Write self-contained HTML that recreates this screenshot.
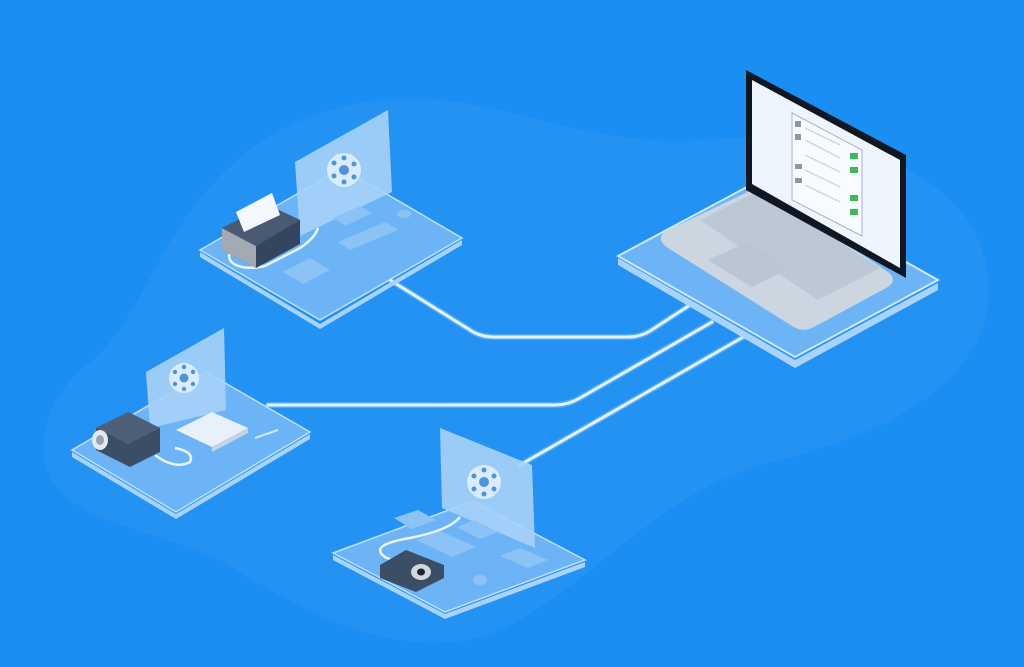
<!DOCTYPE html>
<html><head><meta charset="utf-8"><style>
html,body{margin:0;padding:0;background:#1b8ef3;}
svg{display:block}
</style></head><body>
<svg width="1024" height="667" viewBox="0 0 1024 667" xmlns="http://www.w3.org/2000/svg">
<rect width="1024" height="667" fill="#1b8ef3"/>
<!-- lighter blob -->
<path d="M120 330 C170 250 200 150 330 110 C470 70 560 150 700 140 C830 130 960 160 985 260 C1010 370 900 430 780 460 C660 490 620 560 520 620 C420 680 300 610 220 560 C130 520 30 520 45 430 C55 380 90 370 120 330 Z" fill="#3a9bf3" opacity="0.3"/>

<!-- connectors -->
<g fill="none" stroke-linecap="round">
<g stroke="#7cc0ff" stroke-width="6" opacity="0.5">
<path d="M390 280 L470 330 Q480 337 495 337 L628 337 Q640 337 650 331 L690 305"/>
<path d="M268 405 L555 405 Q568 405 580 398 L712 322"/>
<path d="M520 465 L745 336"/>
</g>
<g stroke="#e4f2ff" stroke-width="3">
<path d="M390 280 L470 330 Q480 337 495 337 L628 337 Q640 337 650 331 L690 305"/>
<path d="M268 405 L555 405 Q568 405 580 398 L712 322"/>
<path d="M520 465 L745 336"/>
</g>
</g>

<!-- TOP-LEFT platform -->
<polygon points="200,252 320,324 462,240 462,245 320,329 200,257" fill="#a9d3fa"/>
<polygon points="200,250 342,168 462,238 320,320" fill="#6cb4f5" stroke="#bfe0fd" stroke-width="1.5"/>
<polygon points="295,162 388,110 392,192 300,236" fill="#a6d1f9" opacity="0.92"/>
<circle cx="344" cy="170" r="17" fill="#d8ecfd"/>
<circle cx="344" cy="170" r="5" fill="#4f93d8"/>
<g fill="#4f93d8"><circle cx="344" cy="158" r="2.5"/><circle cx="354" cy="164" r="2.5"/><circle cx="354" cy="177" r="2.5"/><circle cx="344" cy="182" r="2.5"/><circle cx="334" cy="176" r="2.5"/><circle cx="334" cy="163" r="2.5"/></g>
<polygon points="333,218 360,206 372,213 345,226" fill="#8cc3f6"/>
<polygon points="338,242 385,222 398,230 350,250" fill="#8cc3f6"/>
<ellipse cx="404" cy="214" rx="7" ry="4" fill="#8cc3f6"/>
<polygon points="283,272 310,258 330,270 303,284" fill="#8cc3f6"/>
<path d="M232 250 C222 262 240 272 265 266 L300 248 Q315 238 318 228" stroke="#e8f4ff" stroke-width="2.5" fill="none"/>
<polygon points="222,228 268,205 300,220 300,244 256,268 222,250" fill="#34455f"/>
<polygon points="222,228 256,246 256,268 222,250" fill="#a5a9b3"/>
<polygon points="222,228 268,205 300,220 256,246" fill="#4a5a73"/>
<polygon points="236,212 272,193 280,215 244,232" fill="#f4f7fb"/>

<!-- LEFT platform -->
<polygon points="72,452 176,514 310,434 310,439 176,519 72,457" fill="#a9d3fa"/>
<polygon points="72,450 206,372 310,432 176,512" fill="#6cb4f5" stroke="#bfe0fd" stroke-width="1.5"/>
<polygon points="146,372 224,328 226,410 150,428" fill="#a6d1f9" opacity="0.92"/>
<circle cx="184" cy="378" r="15" fill="#d8ecfd"/>
<circle cx="184" cy="378" r="4.5" fill="#4f93d8"/>
<g fill="#4f93d8"><circle cx="184" cy="367" r="2.2"/><circle cx="193" cy="372" r="2.2"/><circle cx="193" cy="384" r="2.2"/><circle cx="184" cy="389" r="2.2"/><circle cx="175" cy="384" r="2.2"/><circle cx="175" cy="372" r="2.2"/></g>
<polygon points="176,430 212,412 248,428 212,447" fill="#e8f1fb"/>
<polygon points="212,447 248,428 248,433 212,452" fill="#c3d4e8"/>
<line x1="255" y1="438" x2="278" y2="430" stroke="#cfe6fd" stroke-width="2"/>
<path d="M155 455 Q175 470 190 462 Q195 452 175 448" stroke="#e8f4ff" stroke-width="2.5" fill="none"/>
<polygon points="96,428 128,412 160,428 160,452 130,467 96,450" fill="#3c4d66"/>
<polygon points="96,428 128,412 160,428 128,444" fill="#4e5f78"/>
<ellipse cx="100" cy="440" rx="8" ry="10" fill="#e5e9ee"/>
<ellipse cx="100" cy="440" rx="4" ry="5" fill="#9aa3af"/>

<!-- BOTTOM platform -->
<polygon points="333,555 445,614 585,562 585,567 445,619 333,560" fill="#a9d3fa"/>
<polygon points="333,553 473,501 585,560 445,612" fill="#6cb4f5" stroke="#bfe0fd" stroke-width="1.5"/>
<polygon points="440,428 532,465 535,548 442,508" fill="#a6d1f9" opacity="0.92"/>
<circle cx="484" cy="482" r="17" fill="#d8ecfd"/>
<circle cx="484" cy="482" r="5" fill="#4f93d8"/>
<g fill="#4f93d8"><circle cx="484" cy="470" r="2.5"/><circle cx="494" cy="476" r="2.5"/><circle cx="494" cy="489" r="2.5"/><circle cx="484" cy="494" r="2.5"/><circle cx="474" cy="489" r="2.5"/><circle cx="474" cy="476" r="2.5"/></g>
<polygon points="394,518 418,510 436,520 412,529" fill="#8cc3f6"/>
<polygon points="416,540 440,531 476,547 452,557" fill="#8cc3f6"/>
<polygon points="457,527 475,520 498,532 480,539" fill="#8cc3f6"/>
<polygon points="500,556 520,548 548,560 528,568" fill="#8cc3f6"/>
<ellipse cx="480" cy="580" rx="7" ry="5" fill="#8cc3f6"/>
<path d="M460 517 Q450 530 410 538 Q368 545 385 557 Q395 562 398 560" stroke="#e8f4ff" stroke-width="2.5" fill="none"/>
<polygon points="380,565 406,550 444,565 444,578 416,592 380,578" fill="#3c4d66"/>
<ellipse cx="421" cy="572" rx="10" ry="8" fill="#d4d8de"/>
<ellipse cx="421" cy="572" rx="4" ry="3.5" fill="#1e2633"/>

<!-- BIG laptop platform -->
<polygon points="618,258 795,360 938,283 938,290 795,368 618,265" fill="#a9d3fa"/>
<polygon points="618,256 760,180 938,280 795,357" fill="#6cb4f5" stroke="#cfe8ff" stroke-width="2"/>
<path d="M664 232 Q656 240 668 248 L792 326 Q802 333 814 327 L888 287 Q898 280 888 272 L760 186 Z" fill="#ccd6e1"/>
<polygon points="700,220 760,190 880,268 818,300" fill="#bcc8d5"/>
<polygon points="708,260 748,242 790,268 752,287" fill="#bac6d3"/>
<polygon points="746,70 906,155 906,278 746,190" fill="#0f1722"/>
<polygon points="752,80 900,160 900,268 752,184" fill="#eef5fc"/>
<polygon points="792,113 862,150 862,236 792,200" fill="#f8fbff" stroke="#9db6d2" stroke-width="1"/>
<g fill="#3db85a"><rect x="850" y="153" width="8" height="6"/><rect x="850" y="167" width="8" height="6"/><rect x="850" y="195" width="8" height="6"/><rect x="850" y="209" width="8" height="6"/></g>
<g stroke="#c8d6e5" stroke-width="1.5"><line x1="805" y1="128" x2="840" y2="145"/><line x1="805" y1="140" x2="840" y2="158"/><line x1="805" y1="155" x2="840" y2="172"/><line x1="805" y1="170" x2="840" y2="187"/><line x1="805" y1="185" x2="840" y2="202"/></g>
<g fill="#8a97a8"><rect x="795" y="121" width="6" height="6"/><rect x="795" y="134" width="6" height="6"/><rect x="795" y="164" width="7" height="5"/><rect x="795" y="178" width="7" height="5"/></g>
</svg>
</body></html>
